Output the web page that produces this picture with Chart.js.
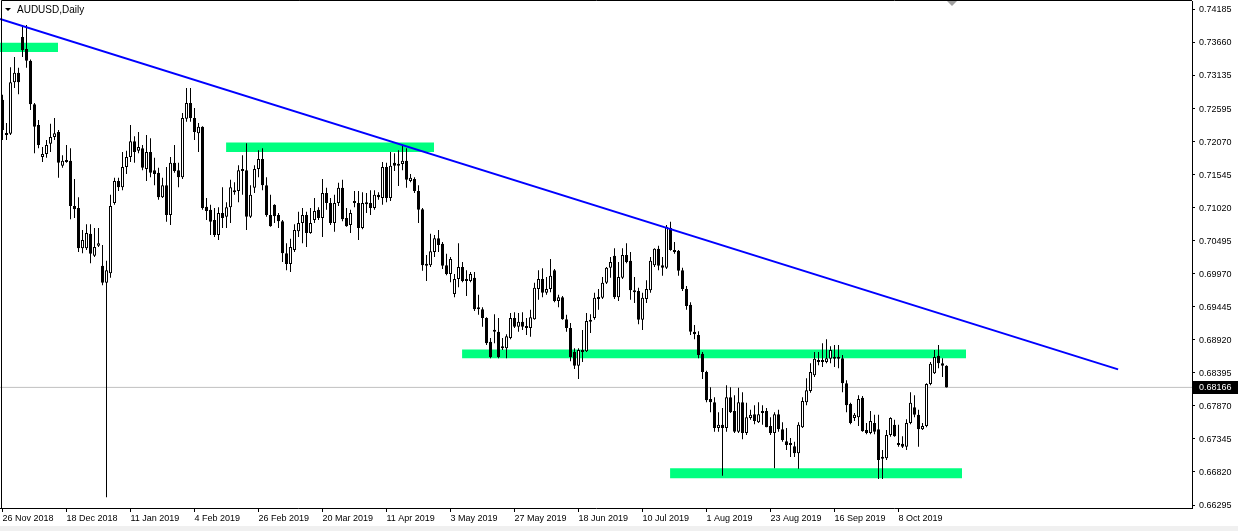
<!DOCTYPE html>
<html lang="en">
<head>
<meta charset="UTF-8">
<title>AUDUSD, Daily</title>
<script src="https://cdn.jsdelivr.net/npm/chart.js"></script>
<style>
  html, body { margin: 0; padding: 0; background: #f0f0f0; }
  #chart { display: block; background: #fff; }
</style>
</head>
<body>
<canvas id="chart" width="1238" height="526"></canvas>
<script>
  const symbolTitle = "AUDUSD,Daily";

  // x axis: bar index of each date label
  const dateTickIdx = [0, 16, 32, 48, 64, 80, 96, 112, 128, 144, 160, 176, 192, 208, 224];
  const dateLabels = ["26 Nov 2018", "18 Dec 2018", "11 Jan 2019", "4 Feb 2019", "26 Feb 2019",
    "20 Mar 2019", "11 Apr 2019", "3 May 2019", "27 May 2019", "18 Jun 2019", "10 Jul 2019",
    "1 Aug 2019", "23 Aug 2019", "16 Sep 2019", "8 Oct 2019"];

  const priceTicks = [0.74185, 0.73660, 0.73135, 0.72595, 0.72070, 0.71545, 0.71020, 0.70495,
    0.69970, 0.69445, 0.68920, 0.68395, 0.67870, 0.67345, 0.66820, 0.66295];

  // daily candles, one per bar index
  const opens = [
    .7274, .7218, .7220, .7302, .7317, .7374, .7355, .7336, .7267, .7234,
    .7183, .7188, .7204, .7215, .7223, .7169, .7178, .7177, .7105, .7102,
    .7038, .7038, .7061, .7026, .7042, .7010, .6983, .6998, .7110, .7145,
    .7135, .7167, .7183, .7208, .7193, .7197, .7164, .7191, .7162, .7158,
    .7119, .7138, .7091, .7174, .7162, .7151, .7244, .7269, .7245, .7221,
    .7231, .7104, .7099, .7083, .7059, .7094, .7088, .7103, .7130, .7129,
    .7164, .7162, .7088, .7134, .7164, .7180, .7138, .7091, .7107, .7091,
    .7081, .7030, .7013, .7035, .7065, .7078, .7091, .7062, .7083, .7099,
    .7086, .7126, .7110, .7078, .7110, .7134, .7086, .7075, .7113, .7110,
    .7070, .7110, .7110, .7102, .7123, .7118, .7167, .7118, .7174, .7172,
    .7172, .7177, .7145, .7148, .7129, .7100, .7013, .7011, .7032, .7054,
    .7045, .7011, .6997, .6965, .6989, .7008, .6989, .6986, .6991, .6943,
    .6941, .6927, .6889, .6908, .6905, .6879, .6879, .6895, .6927, .6913,
    .6921, .6914, .6911, .6925, .6973, .6989, .6967, .6973, .7003, .6954,
    .6960, .6925, .6911, .6873, .6851, .6876, .6874, .6922, .6927, .6957,
    .6959, .6983, .7007, .7026, .6960, .6991, .7027, .7018, .6971, .6970,
    .6924, .6957, .6971, .7011, .7037, .7011, .7007, .7070, .7034, .7034,
    .7003, .6973, .6948, .6905, .6900, .6870, .6841, .6798, .6793, .6752,
    .6757, .6752, .6801, .6779, .6746, .6793, .6744, .6768, .6774, .6761,
    .6776, .6779, .6755, .6744, .6774, .6750, .6731, .6725, .6723, .6712,
    .6753, .6793, .6811, .6836, .6858, .6858, .6857, .6862, .6865, .6865,
    .6863, .6823, .6790, .6768, .6769, .6800, .6749, .6744, .6760, .6750,
    .6703, .6704, .6741, .6757, .6728, .6727, .6722, .6760, .6785, .6773,
    .6750, .6755, .6822, .6839, .6867, .6855, .6851
  ];
  const highs = [
    .7282, .7237, .7326, .7342, .7325, .7393, .7393, .7338, .7269, .7242,
    .7199, .7210, .7236, .7245, .7226, .7186, .7202, .7197, .7148, .7119,
    .7067, .7076, .7076, .7070, .7070, .7043, .7018, .7123, .7150, .7150,
    .7191, .7193, .7234, .7216, .7223, .7202, .7218, .7213, .7182, .7166,
    .7150, .7167, .7183, .7202, .7174, .7253, .7293, .7293, .7261, .7237,
    .7232, .7118, .7107, .7102, .7103, .7135, .7111, .7147, .7143, .7170,
    .7186, .7205, .7138, .7170, .7194, .7197, .7151, .7123, .7108, .7094,
    .7083, .7046, .7053, .7076, .7096, .7102, .7096, .7102, .7118, .7103,
    .7148, .7134, .7118, .7123, .7142, .7147, .7102, .7099, .7129, .7129,
    .7127, .7126, .7130, .7130, .7127, .7175, .7174, .7191, .7189, .7194,
    .7202, .7197, .7156, .7151, .7138, .7102, .7027, .7061, .7059, .7067,
    .7048, .7029, .7024, .6997, .7046, .7016, .7003, .7000, .7000, .6964,
    .6944, .6928, .6895, .6933, .6927, .6895, .6901, .6935, .6936, .6935,
    .6936, .6927, .6940, .6983, .7003, .7006, .6992, .7021, .7005, .6964,
    .6962, .6932, .6919, .6879, .6879, .6908, .6935, .6933, .6967, .6973,
    .6992, .7008, .7024, .7038, .7016, .7038, .7046, .7032, .6992, .6975,
    .6967, .6987, .7024, .7038, .7042, .7024, .7075, .7080, .7048, .7035,
    .7007, .6978, .6952, .6916, .6906, .6873, .6843, .6817, .6801, .6777,
    .6784, .6820, .6817, .6804, .6816, .6809, .6792, .6781, .6788, .6793,
    .6788, .6784, .6769, .6777, .6781, .6761, .6752, .6736, .6730, .6761,
    .6801, .6831, .6855, .6873, .6873, .6887, .6893, .6882, .6884, .6884,
    .6868, .6828, .6792, .6776, .6804, .6803, .6760, .6779, .6773, .6773,
    .6717, .6749, .6769, .6765, .6757, .6739, .6766, .6809, .6804, .6781,
    .6760, .6823, .6857, .6876, .6884, .6863, .6852
  ];
  const lows = [
    .7210, .7210, .7218, .7293, .7283, .7342, .7325, .7258, .7189, .7197,
    .7175, .7182, .7191, .7210, .7150, .7166, .7174, .7084, .7086, .7032,
    .7030, .7035, .7014, .7024, .7040, .6979, .6642, .6991, .7107, .7129,
    .7130, .7156, .7175, .7174, .7189, .7162, .7145, .7151, .7138, .7115,
    .7118, .7080, .7075, .7158, .7135, .7148, .7239, .7239, .7210, .7191,
    .7099, .7083, .7059, .7056, .7051, .7070, .7070, .7078, .7123, .7111,
    .7123, .7067, .7086, .7126, .7151, .7130, .7088, .7072, .7078, .7070,
    .7016, .7003, .7000, .7032, .7056, .7046, .7040, .7061, .7078, .7083,
    .7056, .7099, .7075, .7064, .7105, .7081, .7072, .7062, .7103, .7051,
    .7068, .7094, .7091, .7099, .7115, .7107, .7111, .7113, .7161, .7137,
    .7162, .7134, .7143, .7126, .7078, .7002, .6986, .7008, .7024, .7032,
    .7005, .6995, .6984, .6960, .6976, .6984, .6962, .6984, .6938, .6932,
    .6913, .6884, .6863, .6887, .6863, .6876, .6863, .6893, .6911, .6905,
    .6908, .6900, .6897, .6924, .6956, .6960, .6964, .6968, .6952, .6944,
    .6924, .6905, .6858, .6846, .6830, .6857, .6873, .6903, .6924, .6940,
    .6957, .6981, .6991, .6957, .6954, .6989, .7014, .6956, .6951, .6917,
    .6908, .6951, .6967, .7008, .7003, .6994, .7005, .7034, .7029, .6994,
    .6970, .6940, .6900, .6893, .6863, .6830, .6793, .6777, .6746, .6746,
    .6676, .6746, .6776, .6744, .6744, .6734, .6741, .6765, .6758, .6760,
    .6757, .6753, .6741, .6688, .6746, .6730, .6717, .6706, .6706, .6687,
    .6752, .6788, .6808, .6833, .6852, .6849, .6855, .6855, .6849, .6847,
    .6809, .6777, .6758, .6763, .6755, .6746, .6742, .6742, .6742, .6671,
    .6671, .6701, .6738, .6738, .6722, .6720, .6717, .6758, .6769, .6722,
    .6749, .6753, .6820, .6838, .6847, .6833, .68166
  ];
  const closes = [
    .7226, .7221, .7302, .7317, .7302, .7353, .7336, .7267, .7231, .7202,
    .7188, .7202, .7215, .7221, .7174, .7177, .7175, .7105, .7100, .7038,
    .7051, .7062, .7029, .7040, .7046, .6983, .7003, .7105, .7145, .7135,
    .7167, .7183, .7208, .7191, .7199, .7166, .7191, .7158, .7156, .7119,
    .7138, .7091, .7174, .7161, .7151, .7245, .7269, .7245, .7223, .7231,
    .7102, .7097, .7080, .7059, .7094, .7086, .7103, .7135, .7127, .7162,
    .7161, .7088, .7123, .7164, .7180, .7138, .7091, .7073, .7089, .7081,
    .7030, .7013, .7040, .7067, .7078, .7091, .7062, .7078, .7097, .7086,
    .7126, .7110, .7078, .7110, .7134, .7084, .7073, .7094, .7110, .7070,
    .7110, .7108, .7102, .7123, .7119, .7167, .7118, .7169, .7169, .7169,
    .7177, .7147, .7150, .7129, .7099, .7011, .7010, .7033, .7054, .7043,
    .7010, .6997, .7021, .6989, .7008, .6986, .6986, .6997, .6941, .6941,
    .6927, .6887, .6865, .6905, .6865, .6881, .6898, .6927, .6913, .6921,
    .6913, .6911, .6928, .6975, .6989, .6967, .6973, .6994, .6954, .6960,
    .6925, .6911, .6865, .6851, .6876, .6873, .6922, .6921, .6959, .6959,
    .6983, .7007, .7016, .6960, .6992, .7027, .7016, .6971, .6968, .6924,
    .6959, .6973, .7018, .7037, .7010, .7007, .7072, .7035, .7032, .7002,
    .6973, .6946, .6905, .6901, .6868, .6841, .6796, .6793, .6752, .6757,
    .6752, .6801, .6777, .6746, .6793, .6744, .6769, .6773, .6763, .6774,
    .6779, .6753, .6744, .6774, .6750, .6733, .6725, .6728, .6712, .6757,
    .6795, .6812, .6841, .6862, .6857, .6857, .6863, .6876, .6862, .6862,
    .6823, .6788, .6760, .6773, .6798, .6747, .6744, .6763, .6746, .6701,
    .6706, .6741, .6768, .6739, .6725, .6722, .6760, .6792, .6773, .6750,
    .6755, .6822, .6854, .6865, .6855, .6851, .68166
  ];
  const lastPrice = 0.68166;

  // support / resistance rectangles (bar index range, price range)
  const zoneFrom = [-0.7, 55.9, 114.9, 166.9];
  const zoneTo = [13.9, 107.9, 240.9, 239.9];
  const zoneTop = [0.7365, 0.7206, 0.6877, 0.6688];
  const zoneBottom = [0.7350, 0.7191, 0.6863, 0.6672];

  // descending trend line
  const trendStartBar = -0.625, trendStartPrice = 0.74026;
  const trendEndBar = 278.9, trendEndPrice = 0.68452;

  const shiftMarkBar = 237.4;

  // view window
  const xMin = -0.625, xMax = 297.375;
  const yMin = 0.662473, yMax = 0.743123;

  Chart.defaults.font.family = '"Liberation Sans", Arial, sans-serif';
  Chart.defaults.color = "#000";

  const green = "rgb(0,255,127)";
  const barIdx = opens.map((_, i) => i);

  const datasets = [];
  zoneFrom.forEach((from, k) => {
    datasets.push({
      type: "line",
      data: [{x: from, y: zoneTop[k]}, {x: zoneTo[k], y: zoneTop[k]}],
      borderColor: "rgba(0,0,0,0)", borderWidth: 0, pointRadius: 0,
      backgroundColor: green, fill: "+1", order: 10, clip: 0
    });
    datasets.push({
      type: "line",
      data: [{x: from, y: zoneBottom[k]}, {x: zoneTo[k], y: zoneBottom[k]}],
      borderColor: "rgba(0,0,0,0)", borderWidth: 0, pointRadius: 0,
      fill: false, order: 10, clip: 0
    });
  });

  datasets.push({
    type: "line",
    data: [{x: xMin, y: lastPrice}, {x: xMax, y: lastPrice}],
    borderColor: "#c0c0c0", borderWidth: 1, pointRadius: 0, fill: false, order: 9
  });

  datasets.push({
    type: "bar",
    data: barIdx.map(i => ({x: i, y: [lows[i], highs[i]]})),
    backgroundColor: "#000", borderWidth: 0,
    grouped: false, categoryPercentage: 1, barPercentage: 0.25,
    inflateAmount: 0, order: 3
  });

  datasets.push({
    type: "bar",
    data: barIdx.map(i => ({x: i, y: [opens[i], closes[i]]})),
    backgroundColor: ctx => closes[ctx.dataIndex] >= opens[ctx.dataIndex] ? "#fff" : "#000",
    borderColor: "#000", borderWidth: 1, borderSkipped: false,
    grouped: false, categoryPercentage: 1, barPercentage: 0.75,
    minBarLength: 2, inflateAmount: 0, order: 2
  });

  datasets.push({
    type: "line",
    data: [{x: trendStartBar, y: trendStartPrice}, {x: trendEndBar, y: trendEndPrice}],
    borderColor: "#0000ff", borderWidth: 2, pointRadius: 0, fill: false, order: 1
  });

  const decorations = {
    id: "decorations",
    afterDraw(chart) {
      const ctx = chart.ctx;
      const area = chart.chartArea;
      const ys = chart.scales.y;
      const xs = chart.scales.x;
      ctx.save();
      // frame top and left
      ctx.strokeStyle = "#000";
      ctx.lineWidth = 1;
      ctx.beginPath();
      ctx.moveTo(area.left + 1.5, area.bottom);
      ctx.lineTo(area.left + 1.5, area.top - 0.5);
      ctx.lineTo(area.right, area.top - 0.5);
      ctx.stroke();

      // chart shift marker
      const sx = Math.round(xs.getPixelForValue(shiftMarkBar));
      ctx.fillStyle = "#a0a0a0";
      ctx.beginPath();
      ctx.moveTo(sx - 5, area.top);
      ctx.lineTo(sx + 5, area.top);
      ctx.lineTo(sx, area.top + 5);
      ctx.closePath();
      ctx.fill();

      // title
      ctx.fillStyle = "#000";
      ctx.beginPath();
      ctx.moveTo(5, 8);
      ctx.lineTo(11, 8);
      ctx.lineTo(8, 11);
      ctx.closePath();
      ctx.fill();
      ctx.font = '10px "Liberation Sans", Arial, sans-serif';
      ctx.textBaseline = "middle";
      ctx.textAlign = "left";
      ctx.fillText(symbolTitle, 17, 10);

      // last price box
      const py = Math.round(ys.getPixelForValue(lastPrice));
      ctx.fillStyle = "#000";
      ctx.fillRect(area.right + 1, py - 6, chart.width - area.right - 1, 13);
      ctx.fillStyle = "#fff";
      ctx.font = '9px "Liberation Sans", Arial, sans-serif';
      ctx.fillText(lastPrice.toFixed(5), area.right + 7, py + 0.5);
      ctx.restore();
    }
  };

  new Chart(document.getElementById("chart"), {
    type: "bar",
    data: { datasets: datasets },
    options: {
      responsive: false,
      animation: false,
      devicePixelRatio: 1,
      events: [],
      layout: { padding: { left: 0, top: 1, right: 0, bottom: 0 } },
      plugins: {
        legend: { display: false },
        tooltip: { enabled: false }
      },
      scales: {
        x: {
          type: "linear",
          min: xMin,
          max: xMax,
          offset: false,
          grid: { display: true, drawOnChartArea: false, drawTicks: true, tickLength: 4, color: "#000", offset: false },
          border: { display: true, color: "#000" },
          ticks: {
            autoSkip: false, maxRotation: 0, minRotation: 0, align: "start", padding: 1,
            font: { size: 9 }, color: "#000",
            callback: v => dateLabels[dateTickIdx.indexOf(v)]
          },
          afterBuildTicks: s => { s.ticks = dateTickIdx.map(v => ({ value: v })); },
          afterFit: s => {
            s.height = 18;
            s.paddingLeft = 0; s.paddingRight = 0; s.paddingTop = 0; s.paddingBottom = 0;
          }
        },
        y: {
          type: "linear",
          position: "right",
          min: yMin,
          max: yMax,
          beginAtZero: false,
          grid: { display: true, drawOnChartArea: false, drawTicks: true, tickLength: 3, color: "#000" },
          border: { display: true, color: "#000" },
          ticks: {
            autoSkip: false, padding: 4, labelOffset: 1, font: { size: 9 }, color: "#000",
            callback: v => v.toFixed(5)
          },
          afterBuildTicks: s => { s.ticks = priceTicks.map(v => ({ value: v })); },
          afterFit: s => {
            s.width = 46;
            s.paddingLeft = 0; s.paddingRight = 0; s.paddingTop = 0; s.paddingBottom = 0;
          }
        }
      }
    },
    plugins: [decorations]
  });
</script>
</body>
</html>
